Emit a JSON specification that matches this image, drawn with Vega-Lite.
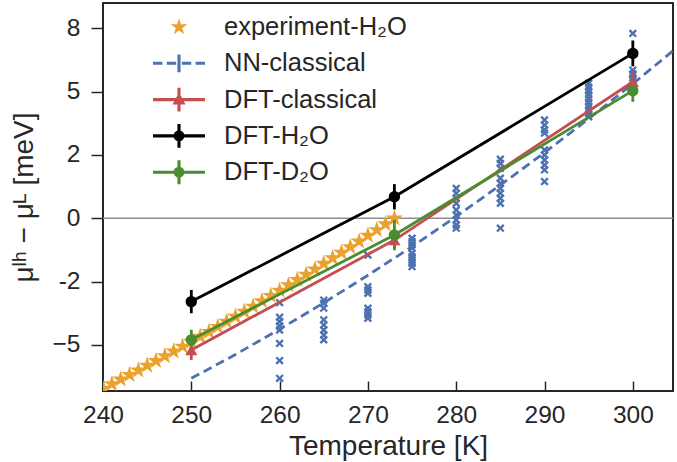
{
  "$schema": "https://vega.github.io/schema/vega-lite/v6.json",
  "width": 570,
  "height": 388,
  "autosize": {"type": "none"},
  "padding": {"left": 103, "top": 3, "right": 4, "bottom": 71},
  "background": "white",
  "config": {
    "font": "Liberation Sans",
    "view": {"stroke": "#262626", "strokeWidth": 2},
    "axis": {"grid": false, "domain": false, "labelFont": "Liberation Sans", "titleFont": "Liberation Sans", "labelColor": "#262626", "titleColor": "#262626", "tickColor": "#262626", "tickWidth": 1.5, "titleFontWeight": "normal", "labelFlush": false},
    "legend": {"labelFont": "Liberation Sans", "labelFontSize": 25.5, "labelColor": "#262626", "labelLimit": 400}
  },
  "datasets": {
    "zero": [{"v": 0}],
    "exp": [
      {"series": "experiment-H₂O", "T": 240, "v": -6.72}, {"series": "experiment-H₂O", "T": 241, "v": -6.54},
      {"series": "experiment-H₂O", "T": 242, "v": -6.36}, {"series": "experiment-H₂O", "T": 243, "v": -6.18},
      {"series": "experiment-H₂O", "T": 244, "v": -6.00}, {"series": "experiment-H₂O", "T": 245, "v": -5.81},
      {"series": "experiment-H₂O", "T": 246, "v": -5.63}, {"series": "experiment-H₂O", "T": 247, "v": -5.44},
      {"series": "experiment-H₂O", "T": 248, "v": -5.25}, {"series": "experiment-H₂O", "T": 249, "v": -5.06},
      {"series": "experiment-H₂O", "T": 250, "v": -4.87}, {"series": "experiment-H₂O", "T": 251, "v": -4.67},
      {"series": "experiment-H₂O", "T": 252, "v": -4.48}, {"series": "experiment-H₂O", "T": 253, "v": -4.28},
      {"series": "experiment-H₂O", "T": 254, "v": -4.08}, {"series": "experiment-H₂O", "T": 255, "v": -3.88},
      {"series": "experiment-H₂O", "T": 256, "v": -3.68}, {"series": "experiment-H₂O", "T": 257, "v": -3.48},
      {"series": "experiment-H₂O", "T": 258, "v": -3.27}, {"series": "experiment-H₂O", "T": 259, "v": -3.06},
      {"series": "experiment-H₂O", "T": 260, "v": -2.85}, {"series": "experiment-H₂O", "T": 261, "v": -2.64},
      {"series": "experiment-H₂O", "T": 262, "v": -2.43}, {"series": "experiment-H₂O", "T": 263, "v": -2.22},
      {"series": "experiment-H₂O", "T": 264, "v": -2.01}, {"series": "experiment-H₂O", "T": 265, "v": -1.79},
      {"series": "experiment-H₂O", "T": 266, "v": -1.57}, {"series": "experiment-H₂O", "T": 267, "v": -1.35},
      {"series": "experiment-H₂O", "T": 268, "v": -1.13}, {"series": "experiment-H₂O", "T": 269, "v": -0.91},
      {"series": "experiment-H₂O", "T": 270, "v": -0.68}, {"series": "experiment-H₂O", "T": 271, "v": -0.46},
      {"series": "experiment-H₂O", "T": 272, "v": -0.23}, {"series": "experiment-H₂O", "T": 273, "v": 0.0}
    ],
    "nnline": [
      {"series": "NN-classical", "T": 250, "v": -6.32}, {"series": "NN-classical", "T": 255, "v": -5.38},
      {"series": "NN-classical", "T": 260, "v": -4.38}, {"series": "NN-classical", "T": 265, "v": -3.34},
      {"series": "NN-classical", "T": 270, "v": -2.25}, {"series": "NN-classical", "T": 275, "v": -1.12},
      {"series": "NN-classical", "T": 280, "v": 0.07}, {"series": "NN-classical", "T": 285, "v": 1.31},
      {"series": "NN-classical", "T": 290, "v": 2.59}, {"series": "NN-classical", "T": 295, "v": 3.93},
      {"series": "NN-classical", "T": 300, "v": 5.31}, {"series": "NN-classical", "T": 305, "v": 6.74}
    ],
    "nnpts": [
      {"T": 260, "v": -3.33}, {"T": 260, "v": -3.91}, {"T": 260, "v": -4.08}, {"T": 260, "v": -4.25}, {"T": 260, "v": -4.41}, {"T": 260, "v": -4.94}, {"T": 260, "v": -5.62}, {"T": 260, "v": -6.32},
      {"T": 265, "v": -3.23}, {"T": 265, "v": -3.36}, {"T": 265, "v": -3.55}, {"T": 265, "v": -4.01}, {"T": 265, "v": -4.21}, {"T": 265, "v": -4.41}, {"T": 265, "v": -4.61}, {"T": 265, "v": -4.8},
      {"T": 270, "v": -1.45}, {"T": 270, "v": -2.7}, {"T": 270, "v": -2.83}, {"T": 270, "v": -2.96}, {"T": 270, "v": -3.55}, {"T": 270, "v": -3.69}, {"T": 270, "v": -3.82}, {"T": 270, "v": -3.95},
      {"T": 275, "v": -0.79}, {"T": 275, "v": -0.92}, {"T": 275, "v": -1.05}, {"T": 275, "v": -1.18}, {"T": 275, "v": -1.38}, {"T": 275, "v": -1.52}, {"T": 275, "v": -1.65}, {"T": 275, "v": -1.78}, {"T": 275, "v": -1.91},
      {"T": 280, "v": 1.18}, {"T": 280, "v": 0.99}, {"T": 280, "v": 0.79}, {"T": 280, "v": 0.59}, {"T": 280, "v": 0.33}, {"T": 280, "v": 0.13}, {"T": 280, "v": -0.07}, {"T": 280, "v": -0.26}, {"T": 280, "v": -0.39},
      {"T": 285, "v": 2.33}, {"T": 285, "v": 2.17}, {"T": 285, "v": 1.97}, {"T": 285, "v": 1.58}, {"T": 285, "v": 1.38}, {"T": 285, "v": 1.18}, {"T": 285, "v": 0.99}, {"T": 285, "v": 0.79}, {"T": 285, "v": 0.59}, {"T": 285, "v": -0.39},
      {"T": 290, "v": 3.88}, {"T": 290, "v": 3.68}, {"T": 290, "v": 3.49}, {"T": 290, "v": 3.36}, {"T": 290, "v": 2.7}, {"T": 290, "v": 2.5}, {"T": 290, "v": 2.3}, {"T": 290, "v": 2.1}, {"T": 290, "v": 1.91}, {"T": 290, "v": 1.45},
      {"T": 295, "v": 5.33}, {"T": 295, "v": 5.18}, {"T": 295, "v": 5.03}, {"T": 295, "v": 4.88}, {"T": 295, "v": 4.73}, {"T": 295, "v": 4.58}, {"T": 295, "v": 4.43}, {"T": 295, "v": 4.28}, {"T": 295, "v": 4.13}, {"T": 295, "v": 4.01},
      {"T": 300, "v": 7.3}, {"T": 300, "v": 5.85}, {"T": 300, "v": 5.7}, {"T": 300, "v": 5.55}, {"T": 300, "v": 5.45}, {"T": 300, "v": 5.2}
    ],
    "dft": [
      {"series": "DFT-classical", "T": 250, "v": -5.2, "lo": -5.6, "hi": -4.8},
      {"series": "DFT-classical", "T": 273, "v": -0.86, "lo": -1.2, "hi": -0.52},
      {"series": "DFT-classical", "T": 300, "v": 5.39, "lo": 5.0, "hi": 5.78},
      {"series": "DFT-H₂O", "T": 250, "v": -3.29, "lo": -3.75, "hi": -2.83},
      {"series": "DFT-H₂O", "T": 273, "v": 0.85, "lo": 0.35, "hi": 1.35},
      {"series": "DFT-H₂O", "T": 300, "v": 6.51, "lo": 6.0, "hi": 7.02},
      {"series": "DFT-D₂O", "T": 250, "v": -4.8, "lo": -5.2, "hi": -4.4},
      {"series": "DFT-D₂O", "T": 273, "v": -0.66, "lo": -1.26, "hi": -0.06},
      {"series": "DFT-D₂O", "T": 300, "v": 5.04, "lo": 4.6, "hi": 5.48}
    ],
    "leg": [
      {"series": "experiment-H₂O", "T": 270, "v": 0},
      {"series": "NN-classical", "T": 270, "v": 0},
      {"series": "DFT-classical", "T": 270, "v": 0},
      {"series": "DFT-H₂O", "T": 270, "v": 0},
      {"series": "DFT-D₂O", "T": 270, "v": 0}
    ]
  },
  "encoding": {
    "x": {"field": "T", "type": "quantitative", "scale": {"domain": [240, 304.55], "nice": false, "zero": false},
      "axis": {"values": [240, 250, 260, 270, 280, 290, 300], "format": "d", "tickSize": -10, "labelPadding": 22, "labelFontSize": 24.5, "title": "Temperature [K]", "titleFontSize": 28, "titlePadding": 6}},
    "y": {"field": "v", "type": "quantitative", "scale": {"domain": [-6.82, 8.5], "nice": false, "zero": false},
      "axis": {"values": [-5, -2.5, 0, 2.5, 5, 7.5], "labelExpr": "datum.value == 7.5 ? '8' : datum.value == 2.5 ? '2' : datum.value == -2.5 ? '-2' : format(datum.value, 'd')", "tickSize": 12, "labelPadding": 11, "labelFontSize": 24.5, "title": "μˡʰ − μᴸ [meV]", "titleFontSize": 28, "titlePadding": 14}}
  },
  "layer": [
    {
      "data": {"name": "leg"},
      "mark": {"type": "point", "filled": true, "opacity": 0, "size": 2704},
      "encoding": {
        "color": {"field": "series", "type": "nominal",
          "scale": {"domain": ["experiment-H₂O", "NN-classical", "DFT-classical", "DFT-H₂O", "DFT-D₂O"], "range": ["#EAA22C", "#4C72B0", "#C44E52", "#000000", "#4A8C30"]},
          "legend": {"title": null, "orient": "none", "legendX": 50, "legendY": 6, "padding": 0, "rowPadding": 0.3, "clipHeight": 36, "labelOffset": 19, "symbolSize": 2704, "symbolStrokeWidth": 0, "symbolOpacity": 1, "labelFontSize": 25.5, "labelLimit": 400}},
        "shape": {"field": "series", "type": "nominal",
          "scale": {"domain": ["experiment-H₂O", "NN-classical", "DFT-classical", "DFT-H₂O", "DFT-D₂O"],
            "range": [
              "M0,-0.46L0,0.46Z M0,-0.34L0.0764,-0.1051L0.3234,-0.1051L0.1235,0.0401L0.1999,0.2751L0,0.1299L-0.1999,0.2751L-0.1235,0.0401L-0.3234,-0.1051L-0.0764,-0.1051Z",
              "M0,-0.46L0,0.46Z M-1,-0.06L-0.64,-0.06L-0.64,0.06L-1,0.06Z M-0.47,-0.06L-0.11,-0.06L-0.11,0.06L-0.47,0.06Z M0.11,-0.06L0.47,-0.06L0.47,0.06L0.11,0.06Z M0.64,-0.06L1,-0.06L1,0.06L0.64,0.06Z M-0.06,-0.34L0.06,-0.34L0.06,0.34L-0.06,0.34Z",
              "M-1,-0.06L1,-0.06L1,0.06L-1,0.06Z M-0.06,-0.46L0.06,-0.46L0.06,0.46L-0.06,0.46Z M0,-0.27L0.25,0.19L-0.25,0.19Z",
              "M-1,-0.06L1,-0.06L1,0.06L-1,0.06Z M-0.06,-0.46L0.06,-0.46L0.06,0.46L-0.06,0.46Z M0.21,0L0.194,0.0804L0.1485,0.1485L0.0804,0.194L0,0.21L-0.0804,0.194L-0.1485,0.1485L-0.194,0.0804L-0.21,0L-0.194,-0.0804L-0.1485,-0.1485L-0.0804,-0.194L0,-0.21L0.0804,-0.194L0.1485,-0.1485L0.194,-0.0804Z",
              "M-1,-0.06L1,-0.06L1,0.06L-1,0.06Z M-0.06,-0.46L0.06,-0.46L0.06,0.46L-0.06,0.46Z M0.21,0L0.194,0.0804L0.1485,0.1485L0.0804,0.194L0,0.21L-0.0804,0.194L-0.1485,0.1485L-0.194,0.0804L-0.21,0L-0.194,-0.0804L-0.1485,-0.1485L-0.0804,-0.194L0,-0.21L0.0804,-0.194L0.1485,-0.1485L0.194,-0.0804Z"
            ]},
          "legend": {"title": null, "orient": "none", "legendX": 50, "legendY": 6, "padding": 0, "rowPadding": 0.3, "clipHeight": 36, "labelOffset": 19, "symbolSize": 2704, "symbolStrokeWidth": 0, "symbolOpacity": 1, "labelFontSize": 25.5, "labelLimit": 400}}
      }
    },
    {
      "data": {"name": "zero"},
      "mark": {"type": "rule", "color": "#8c8c8c", "strokeWidth": 1.5},
      "encoding": {"x": null, "y": {"field": "v", "type": "quantitative"}}
    },
    {
      "data": {"name": "nnpts"},
      "mark": {"type": "point", "filled": true, "clip": true, "color": "#4C72B0", "opacity": 1, "size": 70,
        "shape": "M-1,-0.6L-0.6,-1L0,-0.4L0.6,-1L1,-0.6L0.4,0L1,0.6L0.6,1L0,0.4L-0.6,1L-1,0.6L-0.4,0Z"}
    },
    {
      "data": {"name": "exp"},
      "mark": {"type": "point", "filled": true, "clip": true, "opacity": 1, "size": 320,
        "shape": "M0,-1L0.2245,-0.309L0.9511,-0.309L0.3633,0.118L0.5878,0.809L0,0.382L-0.5878,0.809L-0.3633,0.118L-0.9511,-0.309L-0.2245,-0.309Z"},
      "encoding": {"color": {"field": "series", "type": "nominal", "legend": null}}
    },
    {
      "data": {"name": "nnline"},
      "mark": {"type": "line", "clip": true, "strokeWidth": 2.8, "strokeDash": [9, 5]},
      "encoding": {"color": {"field": "series", "type": "nominal", "legend": null}}
    },
    {
      "data": {"name": "dft"},
      "mark": {"type": "line", "clip": true, "strokeWidth": 2.8},
      "encoding": {"color": {"field": "series", "type": "nominal", "legend": null}, "detail": {"field": "series"}}
    },
    {
      "data": {"name": "dft"},
      "mark": {"type": "rule", "clip": true, "strokeWidth": 2.8},
      "encoding": {"y": {"field": "lo", "type": "quantitative"}, "y2": {"field": "hi"}, "color": {"field": "series", "type": "nominal", "legend": null}}
    },
    {
      "data": {"name": "dft"},
      "transform": [{"filter": "datum.series == 'DFT-classical'"}],
      "mark": {"type": "point", "filled": true, "opacity": 1, "size": 150, "shape": "triangle-up"},
      "encoding": {"color": {"field": "series", "type": "nominal", "legend": null}}
    },
    {
      "data": {"name": "dft"},
      "transform": [{"filter": "datum.series != 'DFT-classical'"}],
      "mark": {"type": "point", "filled": true, "opacity": 1, "size": 130, "shape": "circle"},
      "encoding": {"color": {"field": "series", "type": "nominal", "legend": null}}
    }
  ]
}
